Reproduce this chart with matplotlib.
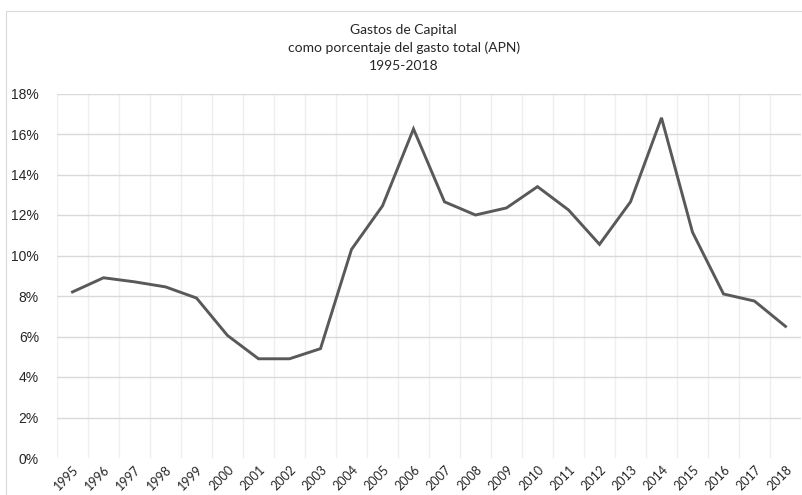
import matplotlib.pyplot as plt
import matplotlib.patches as patches
import numpy as np

# data
YEARS = [str(y) for y in range(1995, 2019)]
SHARE = [8.2, 8.9, 8.7, 8.45, 7.9, 6.05, 4.9, 4.9, 5.4, 10.3, 12.45, 16.25,
         12.65, 12.0, 12.35, 13.4, 12.25, 10.55, 12.65, 16.8, 11.15, 8.1, 7.75, 6.5]
Y_TICKS = [0, 2, 4, 6, 8, 10, 12, 14, 16, 18]

TITLE = "Gastos de Capital\ncomo porcentaje del gasto total (APN)\n1995-2018"

W, H = 802, 495
fig = plt.figure(figsize=(W / 100, H / 100), dpi=100)
fig.patch.set_facecolor("white")

# light chart-area frame
fig.add_artist(patches.Rectangle((6 / W, -0.1), 1.2, 1 - 11 / H + 0.1,
                                 transform=fig.transFigure, fill=False,
                                 edgecolor="#d9d9d9", linewidth=0.8))

ax = fig.add_axes([57 / W, 1 - 458 / H, (801 - 57) / W, (458 - 93.5) / H])

x = np.arange(len(YEARS))
ax.plot(x, SHARE, color="#595959", linewidth=2.1, solid_joinstyle="miter", zorder=3)

ax.set_xlim(-0.5, len(YEARS) - 0.5)
ax.set_ylim(0, 18)

# horizontal gridlines
for v in Y_TICKS[1:]:
    ax.axhline(v, color="#d9d9d9", linewidth=1.0, zorder=1)
# vertical gridlines at category boundaries
for b in np.arange(-0.5, len(YEARS), 1.0):
    ax.axvline(b, color="#efefef", linewidth=1.0, zorder=0)

for s in ax.spines.values():
    s.set_visible(False)

ax.set_yticks(Y_TICKS)
ax.set_yticklabels([f"{v}%" for v in Y_TICKS], family="Liberation Sans",
                   fontsize=10, color="#262626")
ax.tick_params(axis="y", length=0, pad=13)

ax.set_xticks(x)
ax.set_xticklabels(YEARS, rotation=45, ha="right", rotation_mode="anchor",
                   family="Lato", fontsize=9, color="#262626")
ax.tick_params(axis="x", length=0, pad=4)

fig.text(0.5035, 1 - 24 / H, TITLE, ha="center", va="top", family="Lato",
         fontsize=10, color="#262626", linespacing=1.55)

fig.savefig("out.png", dpi=100)
